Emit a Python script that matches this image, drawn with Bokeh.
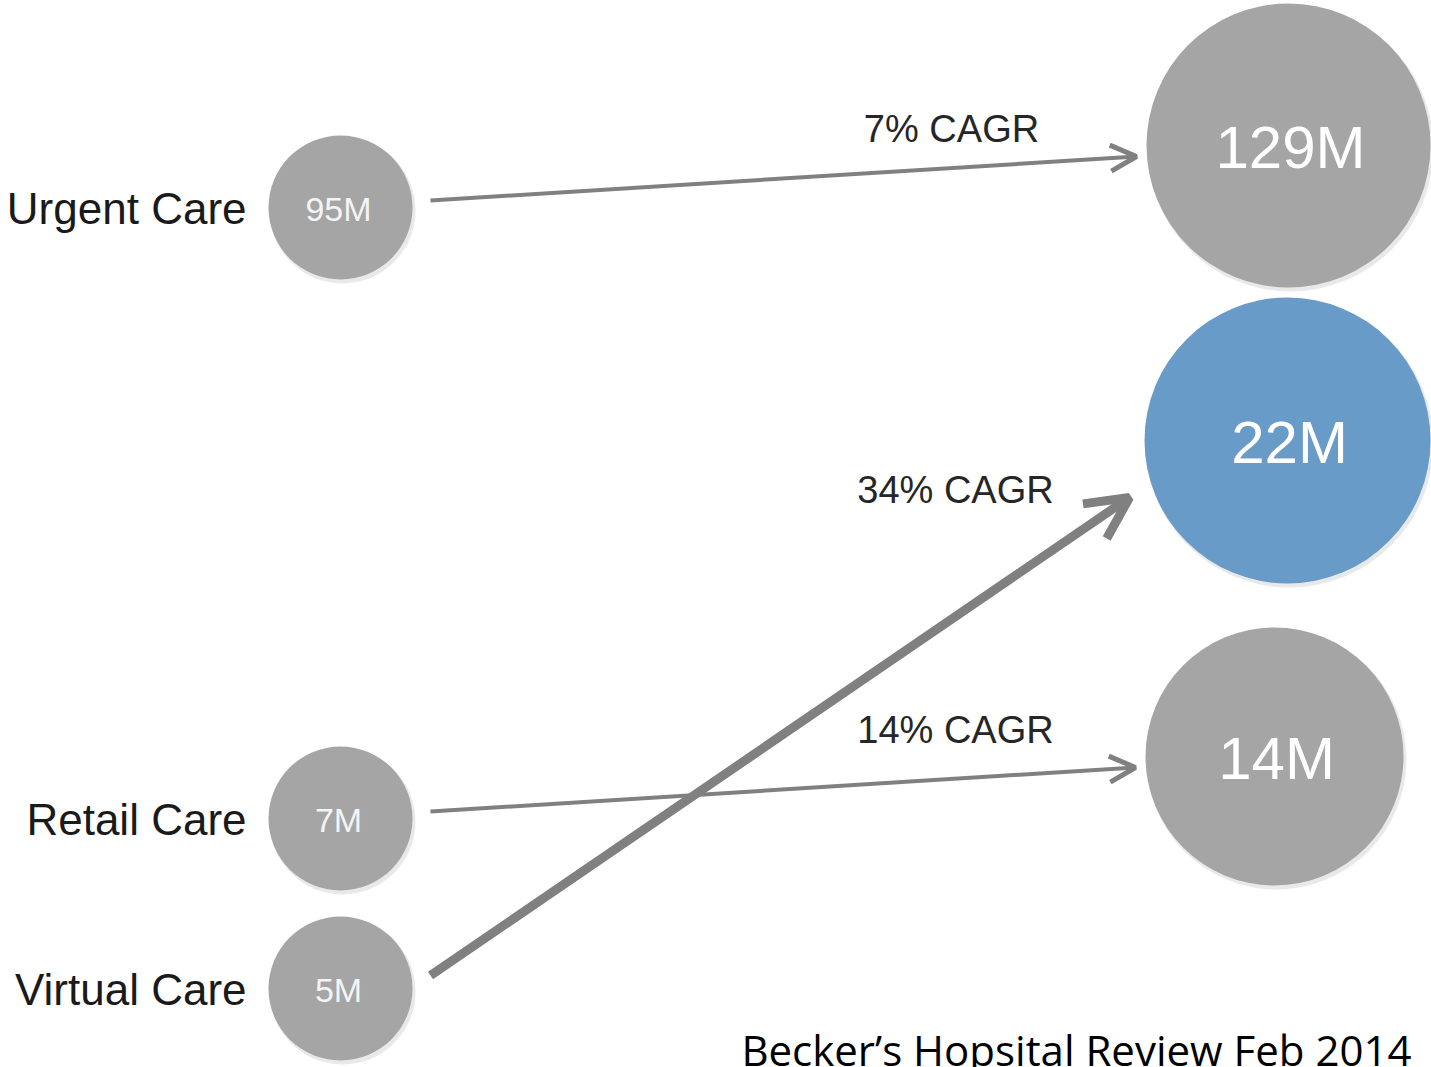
from bokeh.plotting import figure
from bokeh.models import Range1d, Arrow, OpenHead
from bokeh.core.properties import value
from bokeh.embed import file_html
from bokeh.resources import INLINE

# ---- data ----
categories = ["Urgent Care", "Retail Care", "Virtual Care"]
start_values = [95, 7, 5]        # millions (2013)
end_values = [129, 14, 22]       # millions (projected)
cagr = [7, 14, 34]               # % CAGR
source_note = "Becker\u2019s Hopsital Review Feb 2014"

# ---- layout (pixel-like canvas units) ----
W, H = 1431, 1067
left_x = 340
left_y = [207, 818, 988]
left_r = 72
right_x = [1288, 1274, 1287]
right_y = [145, 756, 440]
right_r = [142, 129, 143]
right_col = ["#a5a5a5", "#a5a5a5", "#689bc8"]
arrow_w = [4, 4, 9]
head_size = [26, 26, 42]
cagr_xy = [(951, 128), (955, 729), (955, 489)]

p = figure(width=W, height=H, output_backend="svg", toolbar_location=None,
           x_range=Range1d(0, W), y_range=Range1d(H, 0),
           min_border=0, outline_line_color=None)
p.axis.visible = False
p.grid.visible = False
p.background_fill_color = "white"
p.border_fill_color = "white"

font = value("Liberation Sans")

# shadows
p.circle(x=[left_x + 2] * 3, y=[y + 3 for y in left_y], radius=left_r + 1,
         fill_color="#d4d4d4", fill_alpha=0.5, line_color=None)
p.circle(x=[x + 2 for x in right_x], y=[y + 3 for y in right_y], radius=[r + 1 for r in right_r],
         fill_color="#d4d4d4", fill_alpha=0.5, line_color=None)

# circles
p.circle(x=[left_x] * 3, y=left_y, radius=left_r, fill_color="#a5a5a5", line_color=None)
p.circle(x=right_x, y=right_y, radius=right_r, fill_color=right_col, line_color=None)

# arrows
for i in range(3):
    x0 = left_x + 90
    y0 = left_y[i] - (7 if i < 2 else 13)
    x1 = right_x[i] - right_r[i] - 10 + (0 if i < 2 else -5)
    y1 = right_y[i] + (11 if i < 2 else 57)
    p.add_layout(Arrow(x_start=x0, y_start=y0, x_end=x1, y_end=y1,
                       line_color="#808080", line_width=arrow_w[i],
                       end=OpenHead(size=head_size[i], line_color="#808080",
                                    line_width=arrow_w[i] + (1 if i < 2 else 0))))

# category labels
p.text(x=[246] * 3, y=[y + 1 for y in left_y], text=categories,
       text_align="right", text_baseline="middle", text_font=font,
       text_font_size="44px", text_color="#1a1a1a")

# start values
p.text(x=[left_x - 2] * 3, y=[y + 1 for y in left_y], text=[f"{v}M" for v in start_values],
       text_align="center", text_baseline="middle", text_font=font,
       text_font_size="34px", text_color="#f4f4f4")

# end values
p.text(x=[x + 2 for x in right_x], y=[y + 2 for y in right_y], text=[f"{v}M" for v in end_values],
       text_align="center", text_baseline="middle", text_font=font,
       text_font_size="60px", text_color="#ffffff")

# CAGR labels
p.text(x=[c[0] for c in cagr_xy], y=[c[1] for c in cagr_xy], text=[f"{v}% CAGR" for v in cagr],
       text_align="center", text_baseline="middle", text_font=font,
       text_font_size="38px", text_color="#262626")

# source note
p.text(x=[1411], y=[1049], text=[source_note], text_align="right", text_baseline="middle",
       text_font=value("Open Sans"), text_font_size="42px", text_color="#000000")

open("out.html", "w").write(file_html(p, INLINE))
